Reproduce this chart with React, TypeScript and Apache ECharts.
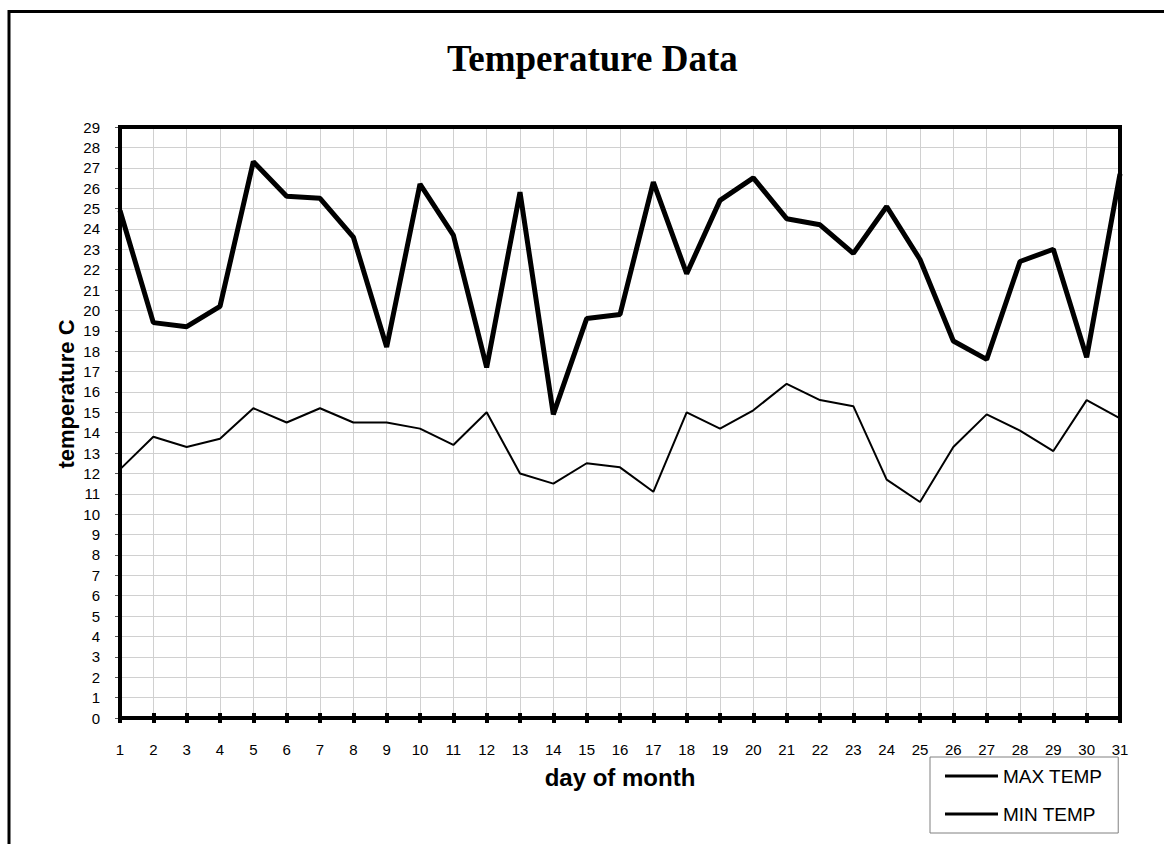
import React, { useEffect, useRef } from "react";
import * as echarts from "echarts";

const days = ["1","2","3","4","5","6","7","8","9","10","11","12","13","14","15","16","17","18","19","20","21","22","23","24","25","26","27","28","29","30","31"];
const maxTemp = [24.9, 19.4, 19.2, 20.2, 27.3, 25.6, 25.5, 23.6, 18.2, 26.2, 23.7, 17.2, 25.8, 14.9, 19.6, 19.8, 26.3, 21.8, 25.4, 26.5, 24.5, 24.2, 22.8, 25.1, 22.5, 18.5, 17.6, 22.4, 23.0, 17.7, 26.7];
const minTemp = [12.2, 13.8, 13.3, 13.7, 15.2, 14.5, 15.2, 14.5, 14.5, 14.2, 13.4, 15.0, 12.0, 11.5, 12.5, 12.3, 11.1, 15.0, 14.2, 15.1, 16.4, 15.6, 15.3, 11.7, 10.6, 13.3, 14.9, 14.1, 13.1, 15.6, 14.7];
const seriesNames = ["MAX TEMP", "MIN TEMP"];
const titleText = "Temperature Data";
const xName = "day of month";
const yName = "temperature C";

const SANS = "Liberation Sans, Arial, sans-serif";
const GRID = { left: 120, top: 127, right: 44, bottom: 126 };
const W = 1164;
const H = 844;

export default function App() {
  const ref = useRef<HTMLDivElement>(null);
  useEffect(() => {
    if (!ref.current) return;
    const chart = echarts.init(ref.current, null, { renderer: "svg" });
    chart.setOption({
      animation: false,
      backgroundColor: "#fff",
      title: {
        text: titleText,
        left: 447,
        top: 40,
        padding: 0,
        textStyle: { fontFamily: "Liberation Serif, Times New Roman, serif", fontWeight: "bold", fontSize: 37, color: "#000" },
      },
      grid: { ...GRID, show: false },
      legend: {
        orient: "vertical",
        left: 930,
        top: 757,
        padding: [9, 16, 9, 15],
        itemGap: 18,
        itemWidth: 53,
        itemHeight: 3,
        borderColor: "#808080",
        borderWidth: 1,
        borderRadius: 0,
        backgroundColor: "#fff",
        textStyle: { fontFamily: SANS, fontSize: 19, color: "#000", lineHeight: 20, padding: [0, 0, 0, 0] },
        data: seriesNames.map((n) => ({ name: n, icon: "rect", itemStyle: { color: "#000" } })),
      },
      xAxis: [
        {
          type: "category",
          data: days,
          boundaryGap: false,
          name: xName,
          nameLocation: "middle",
          nameGap: 47,
          nameTextStyle: { fontFamily: SANS, fontWeight: "bold", fontSize: 24, color: "#000" },
          axisLine: { show: true, lineStyle: { color: "#000", width: 4 } },
          axisTick: { show: true, alignWithLabel: true, interval: 0, inside: false, length: 5, lineStyle: { color: "#000", width: 4 } },
          axisLabel: { interval: 0, margin: 24, fontFamily: SANS, fontSize: 15, color: "#000" },
          splitLine: { show: true, interval: 0, lineStyle: { color: "#d0d0d0", width: 1 } },
        },
        {
          type: "category",
          data: days,
          boundaryGap: false,
          position: "bottom",
          axisLine: { show: false },
          axisTick: { show: true, interval: 0, inside: true, length: 5, lineStyle: { color: "#000", width: 4 } },
          axisLabel: { show: false },
          splitLine: { show: false },
        },
      ],
      yAxis: {
        type: "value",
        min: 0,
        max: 29,
        interval: 1,
        axisLine: { show: true, lineStyle: { color: "#000", width: 4 } },
        axisTick: { show: true, inside: false, length: 5, lineStyle: { color: "#555", width: 1 } },
        axisLabel: { margin: 20, fontFamily: SANS, fontSize: 15, color: "#000" },
        splitLine: { show: true, lineStyle: { color: "#d0d0d0", width: 1 } },
      },
      graphic: [
        {
          type: "rect",
          silent: true,
          shape: { x: 9, y: 11.5, width: 3000, height: 3000 },
          style: { fill: "none", stroke: "#000", lineWidth: 3 },
          z: -10,
        },
        {
          type: "rect",
          silent: true,
          shape: { x: GRID.left, y: GRID.top, width: W - GRID.left - GRID.right, height: H - GRID.top - GRID.bottom },
          style: { fill: "none", stroke: "#000", lineWidth: 4 },
          z: 100,
        },
        {
          type: "text",
          x: 66,
          y: 394,
          rotation: Math.PI / 2,
          style: {
            text: yName,
            fontFamily: SANS,
            fontWeight: "bold",
            fontSize: 22,
            fill: "#000",
            align: "center",
            verticalAlign: "middle",
          },
        },
      ],
      series: [
        {
          name: seriesNames[0],
          type: "line",
          data: maxTemp,
          symbol: "none",
          lineStyle: { color: "#000", width: 5 },
          itemStyle: { color: "#000" },
        },
        {
          name: seriesNames[1],
          type: "line",
          data: minTemp,
          symbol: "none",
          lineStyle: { color: "#000", width: 2 },
          itemStyle: { color: "#000" },
        },
      ],
    });
    return () => chart.dispose();
  }, []);
  return <div ref={ref} style={{ position: "fixed", left: 0, top: 0, width: W, height: H }} />;
}
